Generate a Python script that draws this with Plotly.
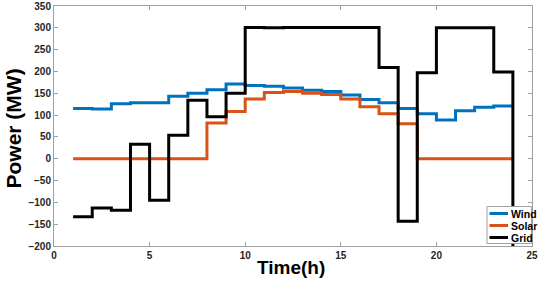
import plotly.graph_objects as go

hours = list(range(1, 25))
wind = [115, 114, 126, 128, 128, 143, 150, 158, 171, 168, 166, 162, 157, 154, 146, 136,
        128, 115, 103, 89, 110, 118, 121, 121]
solar = [0, 0, 0, 0, 0, 0, 0, 82, 108, 137, 152, 154, 150, 147, 137, 119,
         103, 80, 0, 0, 0, 0, 0, 0]
grid = [-133, -113, -118, 33, -95, 54, 134, 96, 150, 301, 300, 301, 301, 301, 301, 301,
        209, -143, 197, 300, 300, 300, 199, -200]

series = [("Wind", wind, "#0072BD"), ("Solar", solar, "#D95319"), ("Grid", grid, "#000000")]

FONT = "Liberation Sans, Arial, sans-serif"
AXC = "#a0a0a0"

fig = go.Figure()
for name, vals, col in series:
    fig.add_trace(go.Scatter(x=hours, y=vals, name=name, mode="lines", showlegend=False,
                             line=dict(color=col, width=3, shape="hv")))

axis_common = dict(showline=True, linecolor=AXC, linewidth=1, mirror="ticks",
                   ticks="inside", ticklen=4, tickcolor=AXC, showgrid=False,
                   zeroline=False, automargin=False, ticklabeloverflow="allow",
                   tickfont=dict(family=FONT, size=10, color="#262626", weight="bold"))

fig.update_xaxes(range=[0, 25], tickvals=[0, 5, 10, 15, 20, 25], **axis_common)
fig.update_yaxes(range=[-200, 350], tickvals=list(range(-200, 351, 50)), **axis_common)

# custom legend (box, swatches, labels) in paper coordinates
W, H = 478.0, 240.0
def px(xp):
    return (xp - 54) / W
def py(yp):
    return (246 - yp) / H

fig.add_shape(type="rect", xref="paper", yref="paper",
              x0=px(487), x1=px(531.5), y0=py(243.5), y1=py(206.5),
              line=dict(color=AXC, width=1), fillcolor="white", layer="above")
rows = [213.5, 225.5, 237.5]
for (name, vals, col), ry in zip(series, rows):
    fig.add_shape(type="line", xref="paper", yref="paper",
                  x0=px(489.5), x1=px(508), y0=py(ry), y1=py(ry),
                  line=dict(color=col, width=3), layer="above")
    fig.add_annotation(xref="paper", yref="paper", x=px(508.5), y=py(ry),
                       xanchor="left", yanchor="middle", showarrow=False,
                       text="<b>%s</b>" % name,
                       font=dict(family=FONT, size=10.5, color="#000"))

# axis titles
fig.add_annotation(xref="paper", yref="paper", x=px(291), y=py(267),
                   xanchor="center", yanchor="middle", showarrow=False,
                   text="<b>Time(h)</b>", font=dict(family=FONT, size=19, color="#000"))
fig.add_annotation(xref="paper", yref="paper", x=px(12.5), y=py(129),
                   xanchor="center", yanchor="middle", showarrow=False, textangle=-90,
                   text="<b>Power (MW)</b>", font=dict(family=FONT, size=21, color="#000"))

fig.update_layout(
    template="none",
    width=540, height=281,
    margin=dict(l=54, r=8, t=6, b=35),
    plot_bgcolor="white", paper_bgcolor="white",
    showlegend=False,
)

fig.write_html("out.html", config={"displayModeBar": False},
               post_script="document.body.style.margin='0';document.body.style.overflow='hidden';")
